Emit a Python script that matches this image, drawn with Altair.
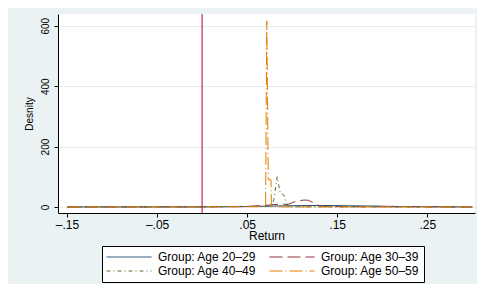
import altair as alt
import pandas as pd

groups = ["Group: Age 20–29", "Group: Age 30–39", "Group: Age 40–49", "Group: Age 50–59"]
colors = ["#1a476f", "#90353b", "#55752f", "#e37e00"]
dashes = [[1, 0], [13, 5], [4, 3, 1, 3], [13, 3, 1, 3]]

x_g1 = [-0.15, 0.0, 0.04, 0.06, 0.08, 0.10, 0.13, 0.16, 0.19, 0.22, 0.30]
y_g1 = [0.0, 0.3, 1.0, 2.0, 3.0, 4.0, 5.0, 4.0, 3.0, 1.5, 0.0]

x_g2 = [-0.15, 0.0, 0.05, 0.07, 0.08, 0.09, 0.095, 0.10, 0.105, 0.113, 0.118, 0.123, 0.128, 0.135, 0.16, 0.30]
y_g2 = [0.0, 0.5, 2.0, 5.0, 8.0, 9.0, 8.0, 14.0, 19.0, 23.0, 22.0, 15.0, 6.0, 2.0, 1.0, 0.0]

x_g3 = [-0.15, 0.0, 0.07, 0.077, 0.0797, 0.0833, 0.0868, 0.0905, 0.0935, 0.0955, 0.10, 0.15, 0.30]
y_g3 = [0.0, 0.3, 2.0, 3.0, 25.0, 100.0, 45.0, 40.0, 18.0, 2.0, 0.5, 0.3, 0.0]

x_g4 = [-0.15, 0.0, 0.06, 0.0705, 0.0718, 0.0735, 0.0765, 0.077, 0.09, 0.30]
y_g4 = [0.0, 0.3, 1.0, 2.0, 616.0, 90.0, 90.0, 1.0, 0.3, 0.0]

x_tick_values = [-0.15, -0.05, 0.05, 0.15, 0.25]
x_tick_labels = ["–.15", "–.05", ".05", ".15", ".25"]
y_tick_values = [0, 200, 400, 600]
ref_x = [0.0]

rows = []
for g, xs, ys in zip(groups, [x_g1, x_g2, x_g3, x_g4], [y_g1, y_g2, y_g3, y_g4]):
    for xv, yv in zip(xs, ys):
        rows.append({"group": g, "ret": xv, "dens": yv})
df = pd.DataFrame(rows)

label_expr = "''"
for v, l in reversed(list(zip(x_tick_values, x_tick_labels))):
    label_expr = f"abs(datum.value - ({v})) < 1e-6 ? '{l}' : ({label_expr})"

FONT = "Liberation Sans"

xscale = alt.Scale(domain=[-0.16, 0.303], nice=False, zero=False)
yscale = alt.Scale(domain=[-20, 639], nice=False, zero=False)

lines = alt.Chart(df).mark_line(strokeWidth=1, clip=True).encode(
    x=alt.X("ret:Q", scale=xscale, title="Return",
            axis=alt.Axis(values=x_tick_values, labelExpr=label_expr, grid=False,
                          labelFontSize=12, titleFontSize=12, labelPadding=2,
                          titlePadding=0, labelFont=FONT, titleFont=FONT,
                          titleFontWeight="normal")),
    y=alt.Y("dens:Q", scale=yscale, title="Desnity",
            axis=alt.Axis(values=y_tick_values, grid=True, gridColor="#e6eef0",
                          labelAngle=270, labelAlign="center", labelBaseline="bottom",
                          labelFontSize=10, titleFontSize=10, labelPadding=4,
                          titlePadding=6, labelFont=FONT, titleFont=FONT,
                          titleFontWeight="normal")),
    color=alt.Color("group:N", title=None,
                    scale=alt.Scale(domain=groups, range=colors),
                    legend=alt.Legend(orient="none", legendX=44, legendY=232, columns=2,
                                      direction="horizontal",
                                      columnPadding=12, rowPadding=0, padding=4,
                                      symbolSize=2025, symbolStrokeWidth=1,
                                      symbolType="stroke", clipHeight=14,
                                      labelOffset=6, labelFontSize=12, labelFont=FONT,
                                      fillColor="white", strokeColor="black",
                                      labelColor="black")),
    strokeDash=alt.StrokeDash("group:N", title=None,
                              scale=alt.Scale(domain=groups, range=dashes)),
)

rule_df = pd.DataFrame({"x": ref_x})
rule = alt.Chart(rule_df).mark_rule(color="#c8285a", strokeWidth=1.2).encode(
    x=alt.X("x:Q", scale=xscale)
)

chart = alt.layer(rule, lines).properties(
    width=417, height=199,
    autosize=alt.AutoSizeParams(type="none"),
    padding={"left": 50, "top": 6, "right": 2, "bottom": 71},
).configure(background="#eaf2f3").configure_view(
    fill="white", stroke=None
).configure_axis(
    domainColor="black", tickColor="black", labelColor="black", titleColor="black",
    tickSize=4, domainWidth=1
)

chart.save("out.html", embed_options={"renderer": "svg", "actions": False})
